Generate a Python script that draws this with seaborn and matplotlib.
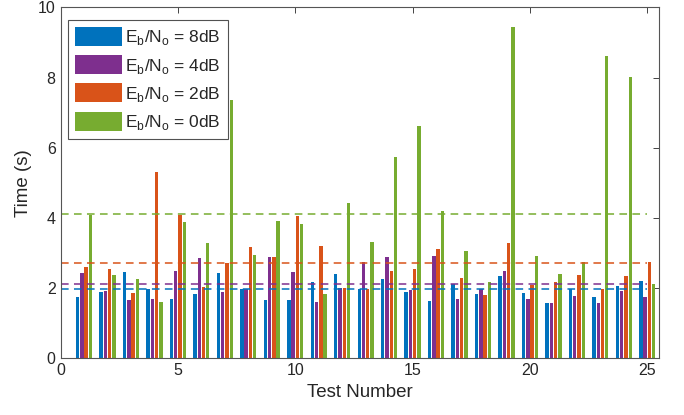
import numpy as np
import pandas as pd
import matplotlib
matplotlib.use("Agg")
import matplotlib.pyplot as plt
import seaborn as sns

# ===================== DATOS =====================
tests = list(range(1, 26))
labels = [r"E$_\mathregular{b}$/N$_\mathregular{o}$ = 8dB",
          r"E$_\mathregular{b}$/N$_\mathregular{o}$ = 4dB",
          r"E$_\mathregular{b}$/N$_\mathregular{o}$ = 2dB",
          r"E$_\mathregular{b}$/N$_\mathregular{o}$ = 0dB"]
colores = ["#0072BD", "#7E2F8E", "#D95319", "#77AC30"]

t_8db = [1.76, 1.89, 2.46, 1.98, 1.69, 1.83, 2.44, 1.98, 1.67, 1.67, 2.17, 2.39, 1.98,
         2.26, 1.88, 1.62, 2.11, 1.82, 2.34, 1.85, 1.58, 1.98, 1.75, 2.07, 2.19]
t_4db = [2.42, 1.93, 1.66, 1.69, 2.49, 2.87, 1.89, 1.98, 2.89, 2.45, 1.60, 2.00, 2.74,
         2.90, 1.95, 2.92, 1.68, 1.98, 2.48, 1.69, 1.58, 1.78, 1.57, 1.93, 1.75]
t_2db = [2.61, 2.54, 1.86, 5.30, 4.08, 2.04, 2.72, 3.16, 2.89, 4.06, 3.21, 2.00, 1.98,
         2.49, 2.55, 3.12, 2.29, 1.79, 3.28, 2.09, 2.18, 2.36, 1.98, 2.34, 2.74]
t_0db = [4.08, 2.36, 2.26, 1.60, 3.88, 3.29, 7.36, 2.93, 3.90, 3.83, 1.83, 4.42, 3.32,
         5.74, 6.63, 4.21, 3.06, 2.17, 9.44, 2.92, 2.39, 2.75, 8.60, 8.01, 2.11]
series = [t_8db, t_4db, t_2db, t_0db]

df = pd.DataFrame({
    "test": np.tile(tests, 4),
    "time": np.concatenate(series),
    "snr": np.repeat(labels, len(tests)),
})

# ===================== GRAFICA =====================
sns.set_style("white")
plt.rcParams["font.family"] = ["Liberation Sans", "DejaVu Sans"]
plt.rcParams["mathtext.fontset"] = "custom"
plt.rcParams["mathtext.rm"] = "Liberation Sans"

fig = plt.figure(figsize=(6.84, 4.15), dpi=100)
ax = fig.add_axes([0.0885, 0.1366, 0.875, 0.8458])

sns.barplot(data=df, x="test", y="time", hue="snr", hue_order=labels,
            palette=colores, native_scale=True, width=0.727, gap=0.2,
            saturation=1, errorbar=None, linewidth=0, ax=ax)

# lineas de promedio
for vals, c in zip(series, colores):
    ax.plot([0, 25], [np.mean(vals)] * 2, ls=(0, (5, 3.5)), color=c, lw=1.1)

ax.set_xlim(0, 25.5)
ax.set_ylim(0, 10)
ax.set_xticks(range(0, 26, 5))
ax.set_yticks(range(0, 11, 2))
ax.tick_params(direction="in", top=True, right=True, labelsize=11.5,
               length=4, width=0.6, colors="#262626")
for s in ax.spines.values():
    s.set_color("#555555")
    s.set_linewidth(0.8)
ax.set_xlabel("Test Number", fontsize=13.5, labelpad=4, color="#262626")
ax.set_ylabel("Time (s)", fontsize=13.5, labelpad=4, color="#262626")

handles, _ = ax.get_legend_handles_labels()
leg = ax.legend(handles[:4], labels, loc="upper left", bbox_to_anchor=(0.0125, 0.9638),
                fontsize=12.5, handlelength=2.7, handleheight=1.32, labelspacing=0.45,
                handletextpad=0.2, borderpad=0.4, borderaxespad=0,
                frameon=True, fancybox=False, edgecolor="#262626")
leg.get_frame().set_linewidth(0.8)

fig.savefig("out.png", dpi=100)
